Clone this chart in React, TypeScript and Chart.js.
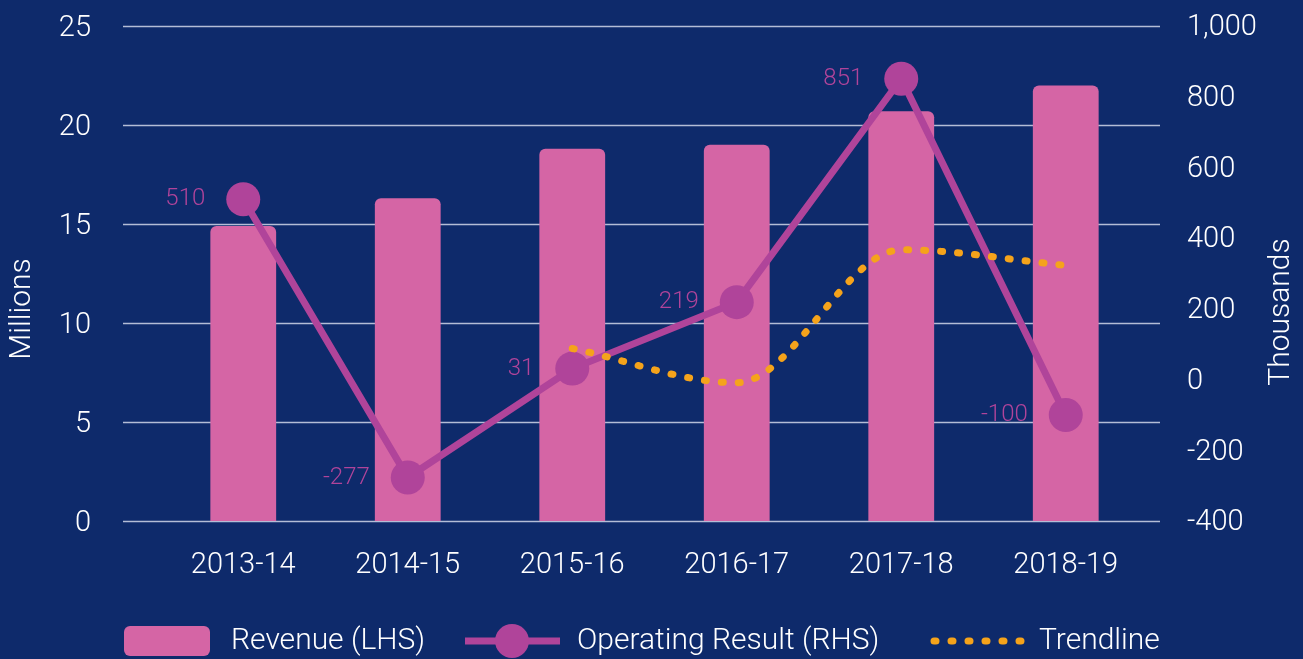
import React, { useEffect, useRef } from "react";
import { Chart, registerables } from "chart.js";

Chart.register(...registerables);

const categories = ["2013-14", "2014-15", "2015-16", "2016-17", "2017-18", "2018-19"];
const revenue = [14.9, 16.3, 18.8, 19.0, 20.7, 22.0];
const operatingResult = [510, -277, 31, 219, 851, -100];
const trendline = [null, null, 88, -9, 367, 323];
const leftTitle = "Millions";
const rightTitle = "Thousands";
const legendLabels = ["Revenue (LHS)", "Operating Result (RHS)", "Trendline"];

const BG = "#0e2a6b";
const PINK = "#d565a5";
const PURPLE = "#b0449a";
const ORANGE = "#f5a31b";
const GRID = "#b4bdd6";
const TEXT = "#ffffff";
const FONT = "Roboto";

const customPlugin = {
  id: "custom",
  beforeDraw(chart: any) {
    const { ctx } = chart;
    ctx.save();
    ctx.fillStyle = BG;
    ctx.fillRect(0, 0, chart.width, chart.height);
    ctx.restore();
  },
  beforeDatasetsDraw(chart: any) {
    const { ctx, chartArea, scales } = chart;
    const y = scales.y;
    ctx.save();
    ctx.strokeStyle = GRID;
    ctx.lineWidth = 1.5;
    y.ticks.forEach((t: any) => {
      const py = Math.round(y.getPixelForValue(t.value)) + 0.5;
      ctx.beginPath();
      ctx.moveTo(chartArea.left - 38, py);
      ctx.lineTo(chartArea.right + 12, py);
      ctx.stroke();
    });
    ctx.restore();
  },
  afterDatasetsDraw(chart: any) {
    const { ctx } = chart;
    const meta = chart.getDatasetMeta(1);
    ctx.save();
    ctx.fillStyle = PURPLE;
    ctx.font = `300 24px ${FONT}`;
    ctx.textAlign = "right";
    ctx.textBaseline = "middle";
    meta.data.forEach((p: any, i: number) => {
      ctx.fillText(String(operatingResult[i]), p.x - 38, p.y);
    });
    ctx.restore();
  },
  afterDraw(chart: any) {
    const { ctx } = chart;
    ctx.save();
    ctx.fillStyle = TEXT;
    ctx.font = `300 30px ${FONT}`;
    ctx.textAlign = "center";
    ctx.textBaseline = "middle";
    ctx.save();
    ctx.translate(22, 309);
    ctx.rotate(-Math.PI / 2);
    ctx.fillText(leftTitle, 0, 0);
    ctx.restore();
    ctx.save();
    ctx.translate(1281, 312);
    ctx.rotate(-Math.PI / 2);
    ctx.fillText(rightTitle, 0, 0);
    ctx.restore();

    // legend
    const ly = 641;
    ctx.textAlign = "left";
    ctx.fillStyle = PINK;
    ctx.beginPath();
    (ctx as any).roundRect(124, 626, 86, 30, 6);
    ctx.fill();
    ctx.fillStyle = TEXT;
    ctx.fillText(legendLabels[0], 231, ly);

    ctx.strokeStyle = PURPLE;
    ctx.lineWidth = 7;
    ctx.beginPath();
    ctx.moveTo(465, ly);
    ctx.lineTo(560, ly);
    ctx.stroke();
    ctx.fillStyle = PURPLE;
    ctx.beginPath();
    ctx.arc(512, ly, 17, 0, Math.PI * 2);
    ctx.fill();
    ctx.fillStyle = TEXT;
    ctx.fillText(legendLabels[1], 577, ly);

    ctx.strokeStyle = ORANGE;
    ctx.lineWidth = 7;
    ctx.lineCap = "round";
    ctx.setLineDash([2, 15]);
    ctx.beginPath();
    ctx.moveTo(934, ly);
    ctx.lineTo(1030, ly);
    ctx.stroke();
    ctx.setLineDash([]);
    ctx.fillStyle = TEXT;
    ctx.fillText(legendLabels[2], 1039, ly);
    ctx.restore();
  },
};

export default function App() {
  const ref = useRef<HTMLCanvasElement>(null);
  useEffect(() => {
    document.body.style.margin = "0";
    document.body.style.background = BG;
    const tickFont = { family: FONT, size: 29, weight: "300" };
    const chart = new Chart(ref.current!, {
      type: "bar",
      data: {
        labels: categories,
        datasets: [
          {
            type: "bar",
            label: legendLabels[0],
            data: revenue,
            backgroundColor: PINK,
            borderRadius: { topLeft: 6, topRight: 6, bottomLeft: 0, bottomRight: 0 },
            borderSkipped: false,
            barPercentage: 0.4,
            categoryPercentage: 1,
            yAxisID: "y",
            order: 3,
          } as any,
          {
            type: "line",
            label: legendLabels[1],
            data: operatingResult,
            borderColor: PURPLE,
            backgroundColor: PURPLE,
            borderWidth: 7,
            pointRadius: 17,
            pointBackgroundColor: PURPLE,
            pointBorderWidth: 0,
            yAxisID: "y1",
            order: 2,
          },
          {
            type: "line",
            label: legendLabels[2],
            data: trendline,
            borderColor: ORANGE,
            borderWidth: 7,
            borderDash: [2, 15],
            borderCapStyle: "round",
            pointRadius: 0,
            cubicInterpolationMode: "monotone",
            yAxisID: "y1",
            order: 1,
          } as any,
        ],
      },
      options: {
        responsive: false,
        animation: false,
        layout: { padding: { top: 26, left: 0, right: 0, bottom: 0 } },
        plugins: { legend: { display: false }, tooltip: { enabled: false } },
        scales: {
          x: {
            grid: { display: false, drawTicks: true, tickLength: 27 },
            border: { display: false },
            ticks: { color: TEXT, font: tickFont, padding: 0 },
            afterFit: (s: any) => {
              s.height = 138;
            },
          },
          y: {
            position: "left",
            min: 0,
            max: 25,
            ticks: { stepSize: 5, color: TEXT, font: tickFont, padding: 0, labelOffset: 3 },
            grid: { display: false, drawTicks: true, tickLength: 70 },
            border: { display: false },
            afterFit: (s: any) => {
              s.width = 161;
            },
          },
          y1: {
            position: "right",
            min: -400,
            max: 1000,
            ticks: { stepSize: 200, color: TEXT, font: tickFont, padding: 0, labelOffset: 2 },
            grid: { display: false, drawTicks: true, tickLength: 39 },
            border: { display: false },
            afterFit: (s: any) => {
              s.width = 155;
            },
          },
        },
      } as any,
      plugins: [customPlugin],
    });
    return () => chart.destroy();
  }, []);
  return (
    <div style={{ width: 1303, height: 659, background: BG }}>
      <canvas ref={ref} width={1303} height={659} style={{ display: "block" }} />
    </div>
  );
}
